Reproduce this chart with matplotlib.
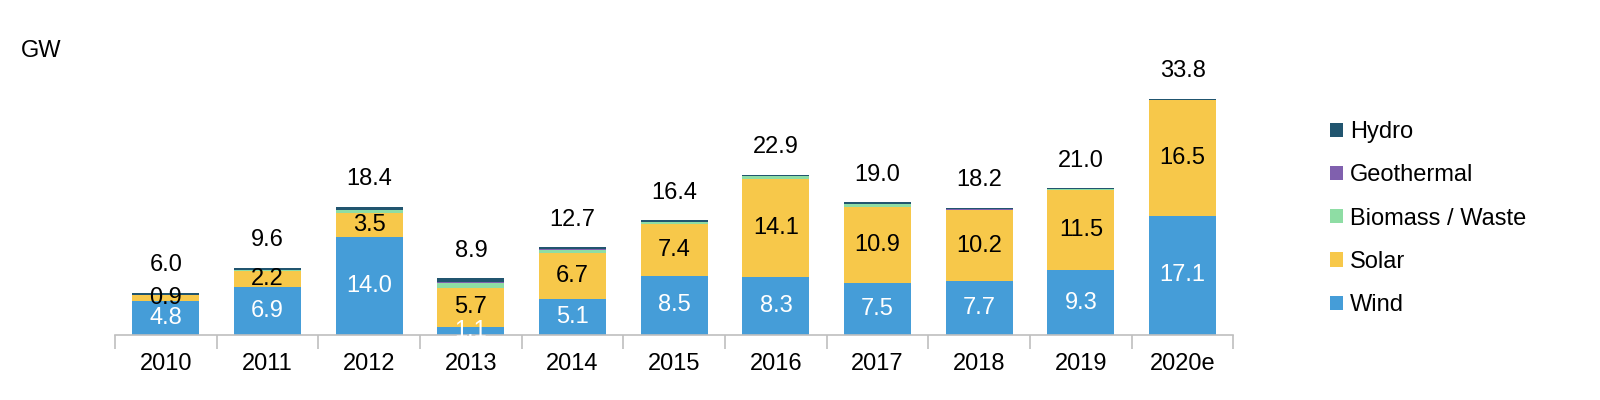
import matplotlib
matplotlib.use("Agg")
import matplotlib.pyplot as plt
import numpy as np

# data (GW)
years = ["2010", "2011", "2012", "2013", "2014", "2015", "2016", "2017", "2018", "2019", "2020e"]
wind = [4.8, 6.9, 14.0, 1.1, 5.1, 8.5, 8.3, 7.5, 7.7, 9.3, 17.1]
solar = [0.9, 2.2, 3.5, 5.7, 6.7, 7.4, 14.1, 10.9, 10.2, 11.5, 16.5]
biomass = [0.1, 0.2, 0.4, 0.6, 0.4, 0.25, 0.3, 0.3, 0.05, 0.1, 0.05]
geothermal = [0.0, 0.05, 0.05, 0.25, 0.05, 0.05, 0.0, 0.1, 0.05, 0.0, 0.0]
hydro = [0.2, 0.25, 0.35, 0.45, 0.3, 0.2, 0.2, 0.2, 0.2, 0.1, 0.15]
totals = [6.0, 9.6, 18.4, 8.9, 12.7, 16.4, 22.9, 19.0, 18.2, 21.0, 33.8]

c_wind = "#459DD8"
c_solar = "#F7C84A"
c_bio = "#8EDDA4"
c_geo = "#8060AE"
c_hydro = "#21556F"

plt.rcParams['font.family'] = ['Liberation Sans', 'DejaVu Sans']
fs = 17

fig = plt.figure(figsize=(16, 4), dpi=100)
ax = fig.add_axes([0.0719, 0.1625, 0.699, 0.70])

x = np.arange(len(years))
w = 0.66
wind_a = np.array(wind)
solar_a = np.array(solar)
bio_a = np.array(biomass)
geo_a = np.array(geothermal)
hydro_a = np.array(hydro)

b1 = ax.bar(x, wind_a, w, color=c_wind, label="Wind")
b2 = ax.bar(x, solar_a, w, bottom=wind_a, color=c_solar, label="Solar")
b3 = ax.bar(x, bio_a, w, bottom=wind_a + solar_a, color=c_bio, label="Biomass / Waste")
b4 = ax.bar(x, geo_a, w, bottom=wind_a + solar_a + bio_a, color=c_geo, label="Geothermal")
top = wind_a + solar_a + bio_a + geo_a
b5 = ax.bar(x, hydro_a, w, bottom=top, color=c_hydro, label="Hydro")
stack_top = top + hydro_a

for i in range(len(years)):
    ax.text(x[i], wind_a[i] / 2, f"{wind[i]:.1f}", ha="center", va="center",
            color="white", fontsize=fs)
    ax.text(x[i], wind_a[i] + solar_a[i] / 2, f"{solar[i]:.1f}", ha="center",
            va="center", color="black", fontsize=fs)
    ax.annotate(f"{totals[i]:.1f}", (x[i], stack_top[i]), xytext=(0, 20),
                textcoords="offset points", ha="center", va="center",
                color="black", fontsize=fs)

ax.set_xlim(-0.5, len(years) - 0.5)
ax.set_ylim(0, 40.1)
ax.set_yticks([])
for s in ["top", "right", "left"]:
    ax.spines[s].set_visible(False)
ax.spines["bottom"].set_color("#BFBFBF")
ax.spines["bottom"].set_linewidth(1.2)

ax.set_xticks(x)
ax.set_xticklabels(years, fontsize=fs)
ax.tick_params(axis="x", which="major", length=0, pad=13)
ax.set_xticks(np.arange(-0.5, len(years), 1), minor=True)
ax.tick_params(axis="x", which="minor", length=10, color="#BFBFBF", width=1.2)

fig.text(0.013, 0.872, "GW", fontsize=fs, ha="left", va="center")

handles = [b5, b4, b3, b2, b1]
labels = ["Hydro", "Geothermal", "Biomass / Waste", "Solar", "Wind"]
leg = fig.legend(handles, labels, loc="upper left", bbox_to_anchor=(0.831, 0.697),
                 frameon=False, fontsize=fs, handlelength=0.55, handleheight=0.55,
                 handletextpad=0.3, labelspacing=0.9, borderpad=0, borderaxespad=0)

fig.savefig("out.png", dpi=100, facecolor="white")
